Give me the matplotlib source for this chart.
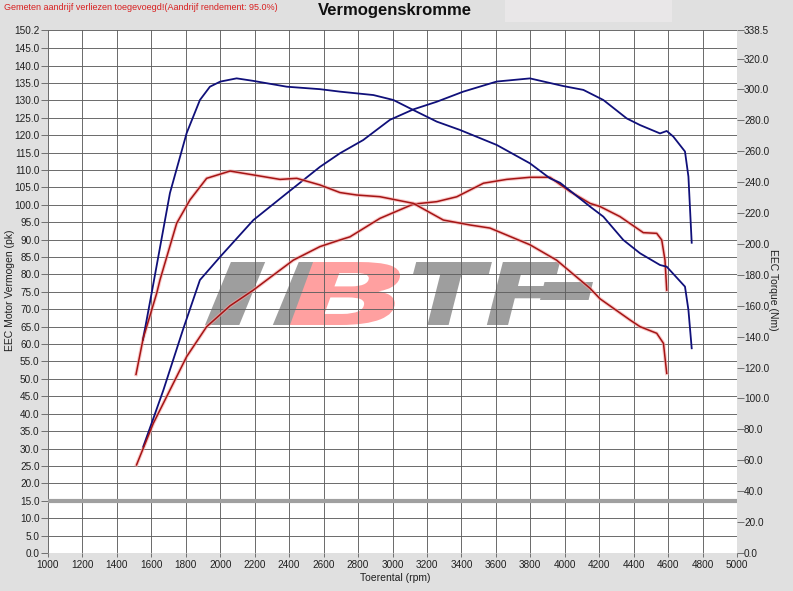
import matplotlib
matplotlib.use("Agg")
import matplotlib.pyplot as plt
import matplotlib.patches as mpatches
from matplotlib.textpath import TextPath
from matplotlib.font_manager import FontProperties
from matplotlib.transforms import Affine2D, IdentityTransform
import numpy as np

# ---------------- data ----------------
blue_power_rpm = [1553, 1670, 1786, 1882, 2000, 2192, 2386, 2579, 2695, 2830, 2985, 3121, 3257, 3411,
                  3605, 3798, 3992, 4108, 4224, 4360, 4437, 4553, 4592, 4630, 4698, 4718, 4737]
blue_power_pk = [30.5, 46.8, 64.5, 78.4, 85.1, 95.6, 103.3, 110.9, 114.8, 118.6, 124.4, 127.4, 129.6, 132.5,
                 135.4, 136.3, 134.1, 133.0, 130.1, 124.8, 122.9, 120.5, 121.2, 119.6, 115.3, 108.1, 89.1]

blue_torque_rpm = [1551, 1602, 1708, 1805, 1882, 1940, 2000, 2095, 2190, 2386, 2579, 2695, 2889, 3005, 3121,
                   3257, 3392, 3605, 3798, 3914, 3973, 4147, 4224, 4340, 4437, 4553, 4592, 4698, 4718, 4737]
blue_torque_nm = [137.9, 168.4, 233.0, 271.8, 293.2, 301.8, 305.1, 307.2, 305.6, 301.8, 300.2, 298.6, 296.4, 293.2, 286.7,
                  279.2, 273.8, 264.1, 252.2, 242.5, 239.6, 224.2, 217.7, 202.6, 194.0, 186.4, 185.3, 172.4, 157.3, 132.5]

red_power_rpm = [1514, 1611, 1708, 1805, 1921, 2057, 2192, 2270, 2424, 2579, 2695, 2753, 2927, 3121, 3257,
                 3373, 3528, 3663, 3798, 3914, 4031, 4147, 4205, 4321, 4456, 4534, 4563, 4582, 4592]
red_power_pk = [25.3, 37.2, 46.8, 56.4, 65.0, 71.0, 75.5, 78.4, 84.1, 88.0, 89.9, 90.8, 96.1, 100.2, 100.9,
                102.3, 106.2, 107.3, 107.9, 107.9, 103.8, 100.4, 99.5, 96.6, 92.0, 91.8, 89.9, 84.1, 75.5]

red_torque_rpm = [1511, 1553, 1631, 1650, 1747, 1824, 1921, 2057, 2192, 2347, 2444, 2579, 2695, 2792, 2927,
                  3121, 3295, 3450, 3566, 3798, 3953, 4147, 4205, 4379, 4437, 4534, 4573, 4592]
red_torque_nm = [115.6, 139.1, 168.1, 176.7, 213.4, 228.5, 242.5, 247.2, 244.7, 241.8, 242.5, 238.2, 233.3, 231.7, 230.6,
                 226.3, 215.5, 212.3, 210.3, 199.5, 189.5, 171.3, 164.5, 150.8, 146.5, 142.2, 135.7, 116.3]

x_ticks = list(range(1000, 5001, 200))
left_ticks = [i * 5.0 for i in range(30)] + [150.2]
right_ticks = [i * 20.0 for i in range(17)] + [338.5]
left_max = 150.2
right_max = 338.5
reference_line_pk = 15.0

title = "Vermogenskromme"
note = "Gemeten aandrijf verliezen toegevoegd!(Aandrijf rendement: 95.0%)"

# ---------------- figure ----------------
plt.rcParams['font.family'] = ['Liberation Sans', 'DejaVu Sans']
W, H = 793, 591
fig = plt.figure(figsize=(W / 100, H / 100), dpi=100, facecolor='#e0e0e0')

# lighter box at top
fig.patches.append(mpatches.Rectangle((505 / W, 1 - 22 / H), 167 / W, 22 / H,
                                      transform=fig.transFigure, facecolor='#e9e7e8',
                                      edgecolor='none', zorder=0))

ax = fig.add_axes([48 / W, (H - 553) / H, (737 - 48) / W, (553 - 30) / H])
ax.set_facecolor('white')
ax.set_xlim(1000, 5000)
ax.set_ylim(0, left_max)

grid_c = '#606060'
for x in x_ticks:
    ax.axvline(x, color=grid_c, lw=0.65, zorder=1)
for y in left_ticks:
    ax.axhline(y, color=grid_c, lw=0.65, zorder=1)
ax.axhline(reference_line_pk, color='#a0a0a0', lw=3, zorder=2)

for s in ax.spines.values():
    s.set_visible(False)

ax.set_xticks(x_ticks)
ax.set_xticklabels([str(t) for t in x_ticks])
ax.set_yticks(left_ticks)
ax.set_yticklabels([f"{t:.1f}" for t in left_ticks])
ax.tick_params(axis='both', labelsize=7.2, colors='#707070', labelcolor='#202020',
               length=5, width=0.7, pad=1)
ax.tick_params(axis='x', length=3, pad=2)

fig.text(395 / W, 1 - 578 / H, "Toerental (rpm)", fontsize=7.5, color='#202020',
         ha='center', va='center')
fig.text(10 / W, 1 - 290 / H, "EEC Motor Vermogen (pk)", fontsize=7.5, color='#202020',
         ha='center', va='center', rotation=90)
fig.text(773 / W, 1 - 290 / H, "EEC Torque (Nm)", fontsize=7.5, color='#202020',
         ha='center', va='center', rotation=-90)


# watermark logo (text paths fitted into pixel boxes, drawn beneath grid)
def logo_piece(s, x0, x1, ytop, ybot, color):
    fp = FontProperties(family='DejaVu Sans', weight='bold', style='italic')
    tp = TextPath((0, 0), s, size=1, prop=fp)
    ext = tp.get_extents()
    sx = (x1 - x0) / ext.width
    sy = (ybot - ytop) / ext.height
    tr = (Affine2D().translate(-ext.x0, -ext.y0).scale(sx, sy)
          .translate(x0, H - ybot))
    patch = mpatches.PathPatch(tr.transform_path(tp), facecolor=color, edgecolor='none',
                               transform=IdentityTransform(), zorder=0.5, clip_on=False)
    ax.add_artist(patch)


logo_piece("II", 205, 333, 262, 325, '#9e9e9e')
logo_piece("B", 290, 400, 262, 325, '#ffa0a0')
logo_piece("TF", 413, 560, 262, 325, '#9e9e9e')
logo_piece("-", 540, 593, 282, 300, '#9e9e9e')

ax2 = ax.twinx()
ax2.set_ylim(0, right_max)
ax2.set_yticks(right_ticks)
ax2.set_yticklabels([f"{t:.1f}" for t in right_ticks])
ax2.tick_params(axis='y', labelsize=7.2, colors='#707070', labelcolor='#202020',
                length=5, width=0.7, pad=0)
for s in ax2.spines.values():
    s.set_visible(False)

blue = '#10107a'
red = '#a51414'
halo = '#f4a4a4'

ax.plot(blue_power_rpm, blue_power_pk, color=blue, lw=1.3, zorder=5)
ax2.plot(blue_torque_rpm, blue_torque_nm, color=blue, lw=1.3, zorder=5)
ax.plot(red_power_rpm, red_power_pk, color=halo, lw=2.6, zorder=4, alpha=0.6)
ax.plot(red_power_rpm, red_power_pk, color=red, lw=1.1, zorder=5)
ax2.plot(red_torque_rpm, red_torque_nm, color=halo, lw=2.6, zorder=4, alpha=0.6)
ax2.plot(red_torque_rpm, red_torque_nm, color=red, lw=1.1, zorder=5)

fig.text(395 / W, 1 - 11 / H, title, fontsize=12, fontweight='bold', ha='center', va='center',
         color='#101010')
fig.text(4 / W, 1 - 8 / H, note, fontsize=6.5, ha='left', va='center', color='#d82020')

fig.savefig("out.png", dpi=100, facecolor=fig.get_facecolor())
